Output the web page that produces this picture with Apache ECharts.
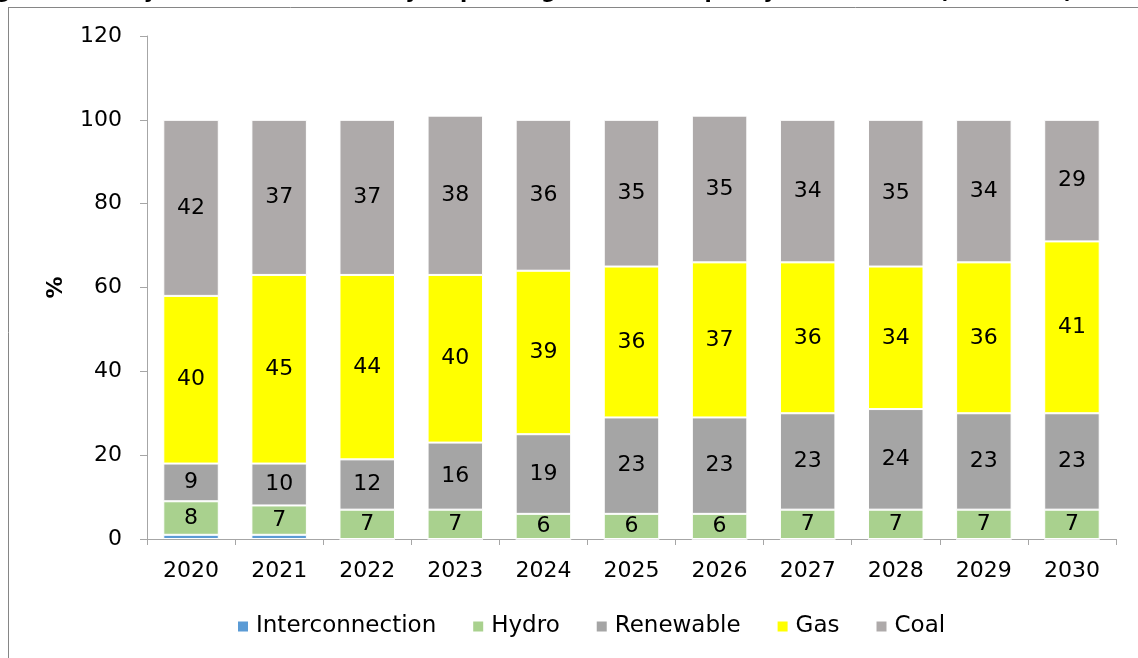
<!DOCTYPE html>
<html>
<head>
<meta charset="utf-8">
<style>
  html, body { margin: 0; padding: 0; background: #fff; }
  #chartMain { width: 1138px; height: 658px; }
</style>
<script src="https://cdn.jsdelivr.net/npm/echarts@6/dist/echarts.min.js"></script>
</head>
<body>
<div id="chartMain"></div>
<script>
// 年份
var years = ['2020', '2021', '2022', '2023', '2024', '2025', '2026', '2027', '2028', '2029', '2030'];
// 各类装机占比 (%)
var interconnection = [1, 1, 0, 0, 0, 0, 0, 0, 0, 0, 0];
var hydro = [8, 7, 7, 7, 6, 6, 6, 7, 7, 7, 7];
var renewable = [9, 10, 12, 16, 19, 23, 23, 23, 24, 23, 23];
var gas = [40, 45, 44, 40, 39, 36, 37, 36, 34, 36, 41];
var coal = [42, 37, 37, 38, 36, 35, 35, 34, 35, 34, 29];
var yTicks = [0, 20, 40, 60, 80, 100, 120];

var fontName = '"DejaVu Sans", sans-serif';

function mkSeries(name, data, color, showLabel) {
    return {
        name: name,
        type: 'bar',
        stack: 'total',
        barWidth: '63%',
        data: data,
        itemStyle: { color: color, borderColor: '#fff', borderWidth: 1 },
        label: {
            show: showLabel,
            position: 'inside',
            color: '#000',
            fontSize: 22,
            fontFamily: fontName
        },
        emphasis: { disabled: true }
    };
}

var myChart = echarts.init(document.getElementById('chartMain'));
var option = {
    animation: false,
    textStyle: { fontFamily: fontName },
    graphic: [
        {
            type: 'text', left: -26, top: -18, silent: true,
            style: {
                text: 'Figure 7: Malaysia \u2013 Peninsular Malaysia power generation capacity mix forecast (% of total)',
                font: 'bold 21px ' + fontName, fill: '#000'
            }
        },
        { type: 'line', shape: { x1: 8, y1: 7.5, x2: 1138, y2: 7.5 }, style: { stroke: '#868686', lineWidth: 1 }, silent: true },
        { type: 'line', shape: { x1: 8.5, y1: 7, x2: 8.5, y2: 658 }, style: { stroke: '#868686', lineWidth: 1 }, silent: true }
    ],
    grid: { left: 147, right: 22, top: 36, bottom: 119 },
    legend: {
        bottom: 15,
        left: 231,
        itemWidth: 12,
        itemHeight: 12,
        itemGap: 35,
        icon: 'rect',
        textStyle: { fontSize: 23, color: '#000', fontFamily: fontName, padding: [0, 0, 0, 2] },
        data: ['Interconnection', 'Hydro', 'Renewable', 'Gas', 'Coal']
    },
    xAxis: {
        type: 'category',
        data: years,
        axisLine: { lineStyle: { color: '#a6a6a6', width: 1 } },
        axisTick: { show: true, length: 6, lineStyle: { color: '#a6a6a6' } },
        axisLabel: { fontSize: 22, color: '#000', margin: 21 }
    },
    yAxis: {
        type: 'value',
        min: yTicks[0],
        max: yTicks[yTicks.length - 1],
        interval: 20,
        name: '%',
        nameLocation: 'middle',
        nameGap: 80,
        nameRotate: 90,
        nameTextStyle: { fontSize: 22, fontWeight: 'bold', color: '#000' },
        axisLine: { show: true, lineStyle: { color: '#a6a6a6', width: 1 } },
        axisTick: { show: true, length: 7, lineStyle: { color: '#a6a6a6' } },
        splitLine: { show: false },
        axisLabel: { fontSize: 22, color: '#000', margin: 25 }
    },
    series: [
        mkSeries('Interconnection', interconnection, '#5b9bd5', false),
        mkSeries('Hydro', hydro, '#a9d18e', true),
        mkSeries('Renewable', renewable, '#a5a5a5', true),
        mkSeries('Gas', gas, '#ffff00', true),
        mkSeries('Coal', coal, '#aeaaaa', true)
    ]
};
myChart.setOption(option);
</script>
</body>
</html>
